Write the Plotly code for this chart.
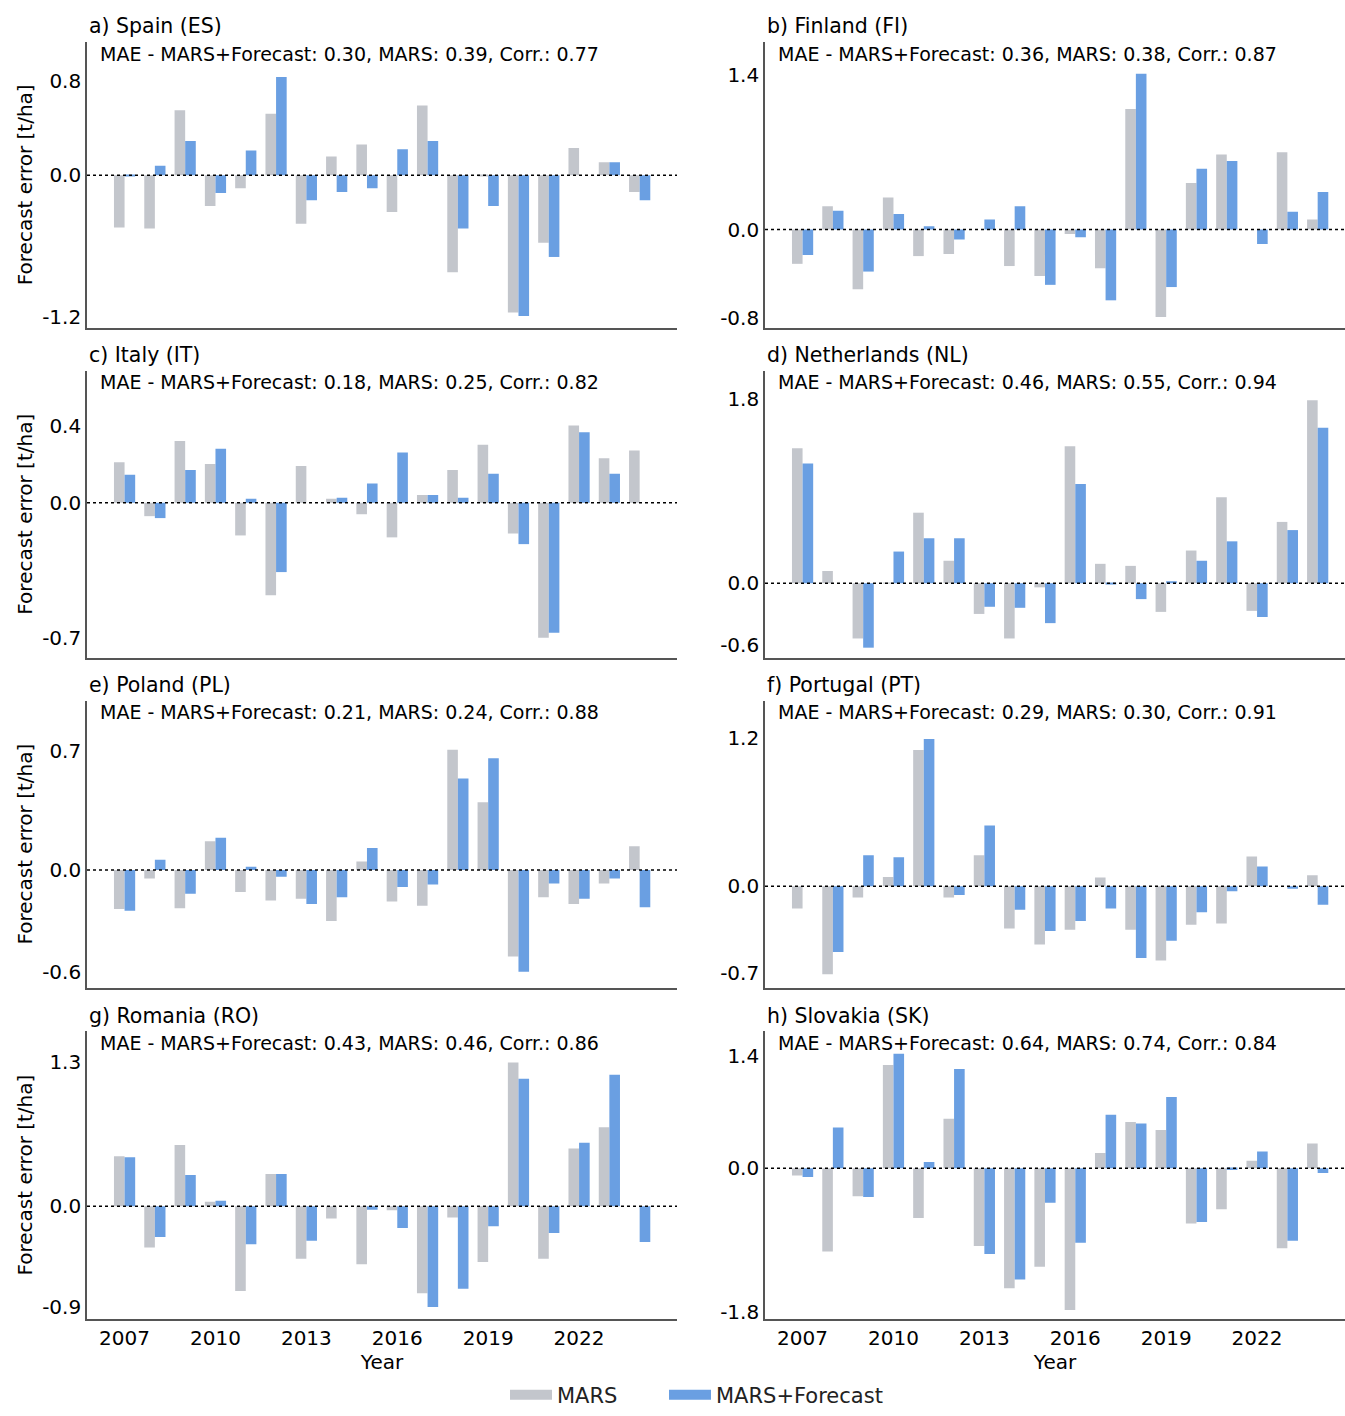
import plotly.graph_objects as go

years = list(range(2007, 2025))
xtick_years = [2007, 2010, 2013, 2016, 2019, 2022]

# Forecast errors [t/ha] per country: MARS and MARS+Forecast
es_mars = [-0.44, -0.45, 0.55, -0.26, -0.11, 0.52, -0.41, 0.16, 0.26, -0.31, 0.59, -0.82, -0.01, -1.16, -0.57, 0.23, 0.11, -0.14]
es_fc   = [-0.01, 0.08, 0.29, -0.15, 0.21, 0.83, -0.21, -0.14, -0.11, 0.22, 0.29, -0.45, -0.26, -1.19, -0.69, 0.0, 0.11, -0.21]

fi_mars = [-0.31, 0.21, -0.54, 0.29, -0.24, -0.22, 0.0, -0.33, -0.42, -0.04, -0.35, 1.09, -0.79, 0.42, 0.68, 0.0, 0.70, 0.09]
fi_fc   = [-0.23, 0.17, -0.38, 0.14, 0.03, -0.09, 0.09, 0.21, -0.50, -0.07, -0.64, 1.41, -0.52, 0.55, 0.62, -0.13, 0.16, 0.34]

it_mars = [0.21, -0.07, 0.32, 0.20, -0.17, -0.48, 0.19, 0.02, -0.06, -0.18, 0.04, 0.17, 0.30, -0.16, -0.70, 0.40, 0.23, 0.27]
it_fc   = [0.145, -0.08, 0.17, 0.28, 0.02, -0.36, 0.0, 0.025, 0.10, 0.26, 0.04, 0.025, 0.15, -0.215, -0.675, 0.365, 0.15, 0.0]

nl_mars = [1.32, 0.12, -0.54, 0.005, 0.69, 0.22, -0.30, -0.54, -0.04, 1.34, 0.19, 0.17, -0.28, 0.32, 0.84, -0.27, 0.60, 1.79]
nl_fc   = [1.17, 0.0, -0.63, 0.31, 0.44, 0.44, -0.23, -0.24, -0.39, 0.97, -0.005, -0.155, 0.02, 0.22, 0.41, -0.33, 0.52, 1.52]

pl_mars = [-0.23, -0.05, -0.225, 0.17, -0.13, -0.18, -0.17, -0.30, 0.05, -0.185, -0.21, 0.71, 0.40, -0.51, -0.16, -0.20, -0.08, 0.14]
pl_fc   = [-0.24, 0.06, -0.14, 0.19, 0.02, -0.04, -0.20, -0.16, 0.13, -0.10, -0.085, 0.54, 0.66, -0.60, -0.08, -0.17, -0.05, -0.22]

pt_mars = [-0.18, -0.71, -0.09, 0.075, 1.10, -0.09, 0.25, -0.34, -0.47, -0.35, 0.07, -0.35, -0.60, -0.31, -0.30, 0.24, 0.0, 0.09]
pt_fc   = [0.0, -0.53, 0.25, 0.235, 1.19, -0.07, 0.49, -0.19, -0.36, -0.28, -0.18, -0.58, -0.44, -0.21, -0.04, 0.16, -0.02, -0.15]

ro_mars = [0.45, -0.37, 0.55, 0.04, -0.76, 0.29, -0.47, -0.11, -0.52, -0.035, -0.78, -0.10, -0.50, 1.29, -0.47, 0.52, 0.71, 0.0]
ro_fc   = [0.44, -0.275, 0.28, 0.05, -0.34, 0.29, -0.31, 0.0, -0.03, -0.195, -0.905, -0.74, -0.18, 1.145, -0.24, 0.57, 1.18, -0.32]

sk_mars = [-0.09, -1.04, -0.35, 1.29, -0.62, 0.62, -0.97, -1.50, -1.23, -1.77, 0.19, 0.58, 0.48, -0.69, -0.51, 0.095, -1.00, 0.31]
sk_fc   = [-0.11, 0.51, -0.36, 1.43, 0.08, 1.24, -1.07, -1.39, -0.43, -0.93, 0.67, 0.56, 0.89, -0.67, -0.02, 0.21, -0.905, -0.06]

panel_titles = ["a) Spain (ES)", "b) Finland (FI)", "c) Italy (IT)", "d) Netherlands (NL)",
                "e) Poland (PL)", "f) Portugal (PT)", "g) Romania (RO)", "h) Slovakia (SK)"]
mae_texts = [
    "MAE - MARS+Forecast: 0.30, MARS: 0.39, Corr.: 0.77",
    "MAE - MARS+Forecast: 0.36, MARS: 0.38, Corr.: 0.87",
    "MAE - MARS+Forecast: 0.18, MARS: 0.25, Corr.: 0.82",
    "MAE - MARS+Forecast: 0.46, MARS: 0.55, Corr.: 0.94",
    "MAE - MARS+Forecast: 0.21, MARS: 0.24, Corr.: 0.88",
    "MAE - MARS+Forecast: 0.29, MARS: 0.30, Corr.: 0.91",
    "MAE - MARS+Forecast: 0.43, MARS: 0.46, Corr.: 0.86",
    "MAE - MARS+Forecast: 0.64, MARS: 0.74, Corr.: 0.84",
]
mars_series = [es_mars, fi_mars, it_mars, nl_mars, pl_mars, pt_mars, ro_mars, sk_mars]
fc_series = [es_fc, fi_fc, it_fc, nl_fc, pl_fc, pt_fc, ro_fc, sk_fc]
ytick_vals = [[-1.2, 0.0, 0.8], [-0.8, 0.0, 1.4], [-0.7, 0.0, 0.4], [-0.6, 0.0, 1.8],
              [-0.6, 0.0, 0.7], [-0.7, 0.0, 1.2], [-0.9, 0.0, 1.3], [-1.8, 0.0, 1.4]]
y_ranges = [[-1.29, 1.13], [-0.89, 1.70], [-0.805, 0.685], [-0.73, 2.08],
            [-0.695, 1.0], [-0.82, 1.50], [-1.01, 1.57], [-1.88, 1.71]]

# ---- layout geometry (pixels) ----
W, H = 1345, 1416
col_px = [(87, 677), (765, 1345)]
row_px = [(42, 331), (374, 664), (707, 997), (1041, 1331)]
px_per_year = 30.3
x_left = 2005.76

GRAY = "#c3c6cc"
BLUE = "#6a9fe2"
SPINE = "#555555"
FONT = "DejaVu Sans"

legend_style = dict(orientation="h", xanchor="left", y=1 - 1408 / H, yanchor="middle",
                    font=dict(family=FONT, size=21, color="#222222"), itemwidth=42,
                    bgcolor="rgba(0,0,0,0)")

fig = go.Figure()
layout = dict(
    width=W, height=H,
    margin=dict(l=0, r=0, t=0, b=0),
    paper_bgcolor="white", plot_bgcolor="white",
    barmode="group", bargap=0.3, bargroupgap=0.0,
    font=dict(family=FONT, size=20, color="black"),
    showlegend=True,
    legend=dict(x=505 / W, **legend_style),
    legend2=dict(x=664 / W, **legend_style),
)
annotations = []
shapes = []

for i in range(8):
    r, c = divmod(i, 2)
    idx = "" if i == 0 else str(i + 1)
    xa, ya = "x" + idx, "y" + idx
    x0p, x1p = col_px[c]
    y0p, y1p = row_px[r]
    xdom = [x0p / W, min(x1p / W, 1.0)]
    ydom = [1 - y1p / H, 1 - y0p / H]
    xr = [x_left, x_left + (x1p - x0p) / px_per_year]

    fig.add_trace(go.Bar(x=years, y=mars_series[i], name="MARS", marker=dict(color=GRAY, line=dict(width=0)),
                         xaxis=xa, yaxis=ya, offsetgroup="1", legendgroup="MARS", showlegend=False))
    fig.add_trace(go.Bar(x=years, y=fc_series[i], name="MARS+Forecast", marker=dict(color=BLUE, line=dict(width=0)),
                         xaxis=xa, yaxis=ya, offsetgroup="2", legendgroup="FC", showlegend=False))

    bottom = (r == 3)
    layout["xaxis" + idx] = dict(
        domain=xdom, anchor=ya, range=xr, showgrid=False, zeroline=False,
        showline=True, linecolor=SPINE, linewidth=1.6, ticks="",
        tickvals=xtick_years if bottom else [], showticklabels=bottom,
        tickfont=dict(family=FONT, size=20, color="black"),
        title=dict(text="Year" if bottom else "", font=dict(family=FONT, size=20, color="black"), standoff=2),
        automargin=False,
    )
    ticktext = ["%.1f" % v for v in ytick_vals[i]]
    layout["yaxis" + idx] = dict(
        domain=ydom, anchor=xa, range=y_ranges[i], showgrid=False, zeroline=False,
        showline=True, linecolor=SPINE, linewidth=1.6, ticks="",
        tickvals=ytick_vals[i], ticktext=ticktext,
        tickfont=dict(family=FONT, size=20, color="black"),
        title=dict(text="Forecast error [t/ha]" if c == 0 else "",
                   font=dict(family=FONT, size=20, color="black"), standoff=4),
        automargin=False,
    )
    # zero reference line (dotted)
    shapes.append(dict(type="line", xref=xa + " domain", yref=ya, x0=0, x1=1, y0=0, y1=0,
                       line=dict(color="black", width=1.5, dash="dot"), layer="above"))
    # panel title
    annotations.append(dict(text=panel_titles[i], xref="paper", yref="paper",
                            x=x0p / W, y=1 - (y0p - 16) / H, xanchor="left", yanchor="middle",
                            showarrow=False, font=dict(family=FONT, size=20.5, color="black")))
    # MAE text
    annotations.append(dict(text=mae_texts[i], xref="paper", yref="paper",
                            x=(x0p + 11) / W, y=1 - (y0p + 12) / H, xanchor="left", yanchor="middle",
                            showarrow=False, font=dict(family=FONT, size=19, color="black")))

# legend entries (thick line symbols approximate the wide rectangular swatches)
fig.add_trace(go.Scatter(x=[None], y=[None], mode="lines", name="MARS", legend="legend",
                         line=dict(color=GRAY, width=15), legendgroup="MARS", showlegend=True))
fig.add_trace(go.Scatter(x=[None], y=[None], mode="lines", name="MARS+Forecast", legend="legend2",
                         line=dict(color=BLUE, width=15), legendgroup="FC", showlegend=True))

layout["annotations"] = annotations
layout["shapes"] = shapes
fig.update_layout(**layout)
fig.write_html(
    "out.html",
    config={"displayModeBar": False},
    post_script=(
        "document.body.style.margin='0';"
        "var gd=document.getElementById('{plot_id}');"
        "gd.style.position='fixed';gd.style.top='0px';gd.style.left='0px';"
    ),
)
